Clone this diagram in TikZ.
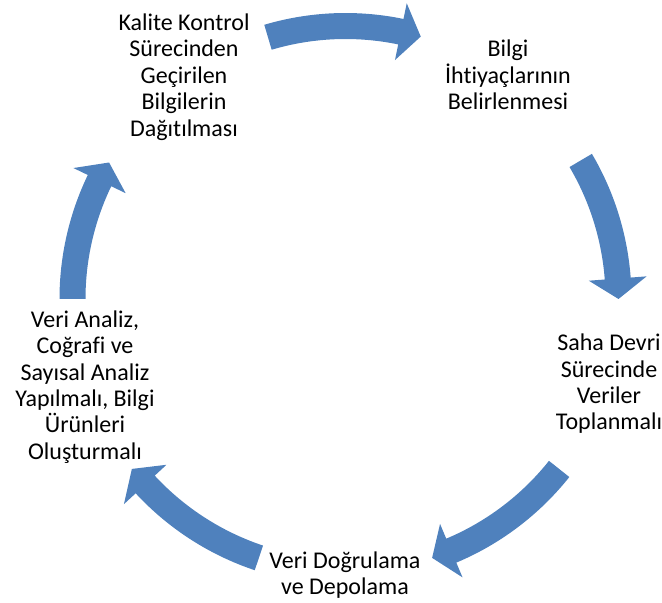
\documentclass[tikz,border=0pt]{standalone}
\usepackage{fontspec}
\setmainfont{Carlito}[Ligatures=NoCommon]
\usepackage{tikz}

\definecolor{cycblue}{HTML}{4F81BD}
\tikzset{lbl/.style={align=center, inner sep=0pt, font=\fontsize{24}{26.4}\selectfont}}
% block arrow on the ring, clockwise from angle #1 to angle #2
\newcommand{\ringarrow}[2]{
	\fill[cycblue] (#1:286) arc[start angle=#1, end angle=#2+4.3, radius=286] -- (#2+4.3:302) -- (#2:273)
	    -- (#2+4.3:244) -- (#2+4.3:260) arc[start angle=#2+4.3, end angle=#1, radius=260] -- cycle;}

\begin{document}
\begin{tikzpicture}[x=1pt, y=1pt]
	    \useasboundingbox (0,0) rectangle (662,603);
	    \node[lbl] (bilgi) at (508,528) {Bilgi\\İhtiyaçlarının\\Belirlenmesi};
	    \node[lbl] (saha) at (609,219) {Saha Devri\\Sürecinde\\Veriler\\Toplanmalı};
	    \node[lbl] (dogrulama) at (345,28) {Veri Doğrulama\\ve Depolama};
	    \node[lbl] (analiz) at (85,216) {Veri Analiz,\\Coğrafi ve\\Sayısal Analiz\\Yapılmalı, Bilgi\\Ürünleri\\Oluşturmalı};
	    \node[lbl] (kalite) at (184,526) {Kalite Kontrol\\Sürecinden\\Geçirilen\\Bilgilerin\\Dağıtılması};
	    \begin{scope}[shift={(345.5,304)}]
	        \ringarrow{106.5}{74}
	        \ringarrow{30.5}{0}
	        \ringarrow{-38.5}{-71.5}
	        \ringarrow{-108.5}{-141.5}
	        \ringarrow{180}{150}
	    \end{scope}
	  \end{tikzpicture}
\end{document}
